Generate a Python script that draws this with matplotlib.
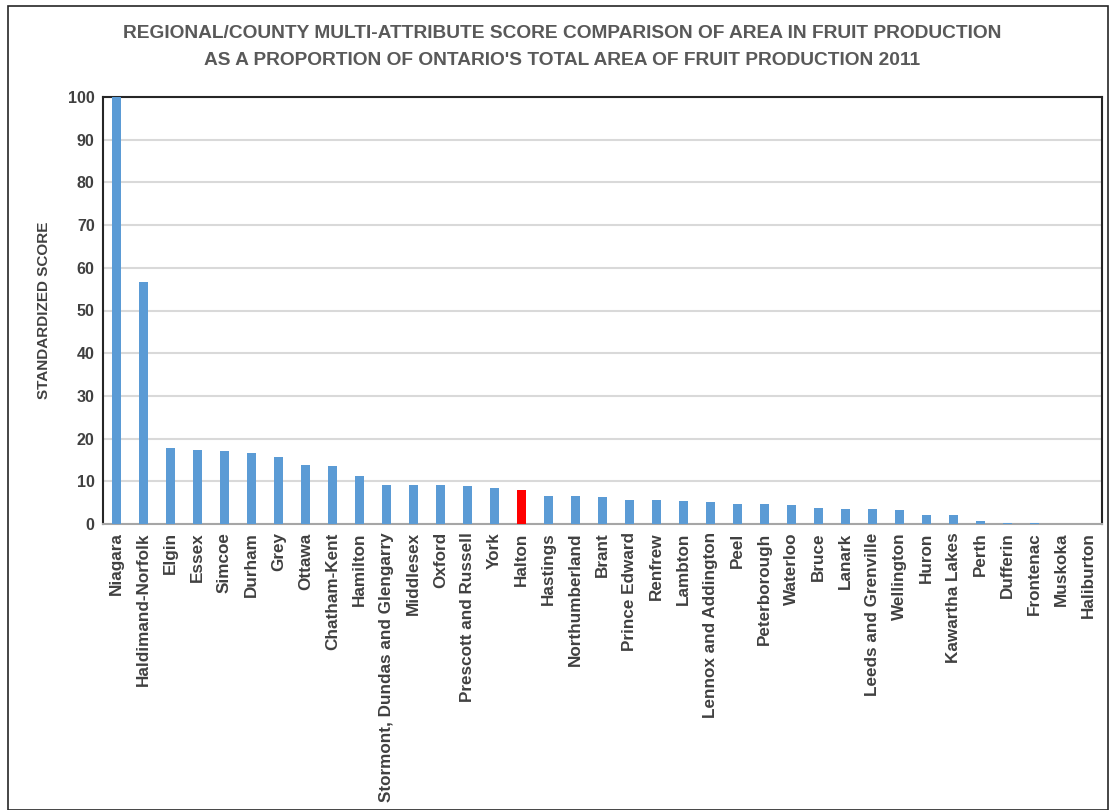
import matplotlib
matplotlib.use("Agg")
import matplotlib.pyplot as plt
from matplotlib.patches import Rectangle

regions = ["Niagara", "Haldimand-Norfolk", "Elgin", "Essex", "Simcoe", "Durham", "Grey",
           "Ottawa", "Chatham-Kent", "Hamilton", "Stormont, Dundas and Glengarry", "Middlesex",
           "Oxford", "Prescott and Russell", "York", "Halton", "Hastings", "Northumberland",
           "Brant", "Prince Edward", "Renfrew", "Lambton", "Lennox and Addington", "Peel",
           "Peterborough", "Waterloo", "Bruce", "Lanark", "Leeds and Grenville", "Wellington",
           "Huron", "Kawartha Lakes", "Perth", "Dufferin", "Frontenac", "Muskoka", "Haliburton"]
scores = [100, 56.6, 17.8, 17.4, 17.2, 16.6, 15.6, 13.9, 13.5, 11.3, 9.2, 9.1, 9.1, 8.8,
          8.5, 7.9, 6.6, 6.6, 6.4, 5.7, 5.6, 5.3, 5.1, 4.6, 4.6, 4.5, 3.7, 3.6, 3.6, 3.2,
          2.2, 2.2, 0.8, 0.35, 0.2, 0, 0]
highlight = "Halton"

title = ("REGIONAL/COUNTY MULTI-ATTRIBUTE SCORE COMPARISON OF AREA IN FRUIT PRODUCTION\n"
         "AS A PROPORTION OF ONTARIO'S TOTAL AREA OF FRUIT PRODUCTION 2011")
ylabel = "STANDARDIZED SCORE"

blue = "#5b9bd5"
red = "#ff0000"
txt = "#595959"

fig = plt.figure(figsize=(11.11, 8.10), dpi=100)
W, H = 1111, 810
ax = fig.add_axes([103 / W, 1 - 524 / H, (1102 - 103) / W, (524 - 97) / H])

colors = [red if r == highlight else blue for r in regions]
x = range(len(regions))
ax.bar(x, scores, width=0.34, color=colors, zorder=3)
ax.set_xlim(-0.5, len(regions) - 0.5)
ax.set_ylim(0, 100)
ax.set_yticks(range(0, 101, 10))
ax.set_xticks(list(x))
ax.set_xticklabels(regions, rotation=90, fontsize=12.3, fontweight="bold", color="#404040",
                   family="Liberation Sans")
for lab in ax.get_yticklabels():
    lab.set_fontsize(11.5)
    lab.set_fontweight("bold")
    lab.set_color("#404040")
    lab.set_family("Liberation Sans")
ax.tick_params(axis="both", length=0, pad=6)
ax.grid(axis="y", color="#d9d9d9", linewidth=1.5, zorder=0)
ax.set_axisbelow(True)
for s in ["top", "left", "right"]:
    ax.spines[s].set_color("#262626")
    ax.spines[s].set_linewidth(1.5)
ax.spines["bottom"].set_color("#a6a6a6")
ax.spines["bottom"].set_linewidth(1.5)

ax.set_ylabel(ylabel, fontsize=11, fontweight="bold", color="#404040", family="Liberation Sans",
              labelpad=12)

fig.text(562 / W, 1 - 47 / H, title, ha="center", va="center", fontsize=13.8, fontweight="bold",
         color=txt, family="Liberation Sans", linespacing=1.75)

fig.patches.append(Rectangle((8 / W, 0), (1108 - 8) / W, 1 - 6 / H, transform=fig.transFigure,
                             fill=False, edgecolor="#262626", linewidth=1.2))

fig.savefig("out.png", dpi=100, facecolor="white")
